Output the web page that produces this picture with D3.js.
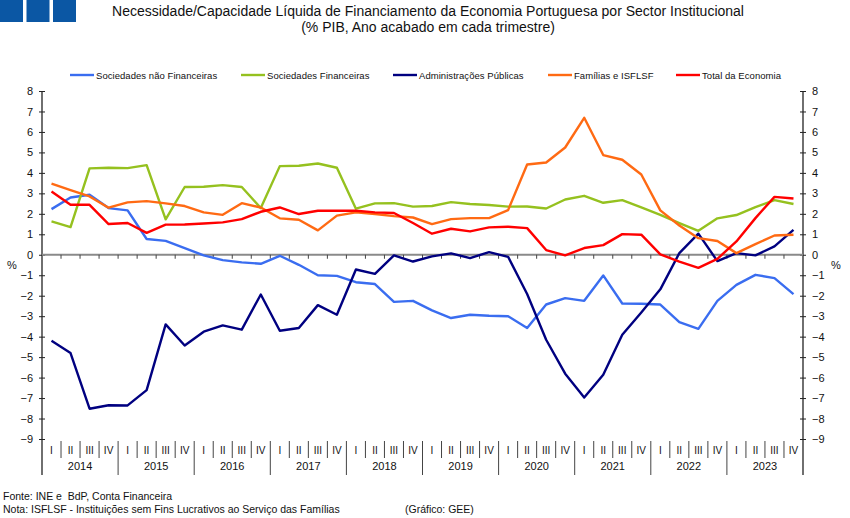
<!DOCTYPE html>
<meta charset="utf-8">
<script src="https://cdn.jsdelivr.net/npm/d3@7"></script>
<style>
  body { margin: 0; background: #fff; }
  svg { display: block; font-family: "Liberation Sans", Arial, sans-serif; }
  .title { font-size: 14px; fill: #111; }
  .legend text { font-size: 9.5px; letter-spacing: 0.05px; fill: #111; }
  .axis text, text.axis { font-size: 11px; fill: #111; }
  .note { font-size: 10.5px; fill: #111; white-space: pre; }
  .serie { fill: none; stroke-width: 2.4px; stroke-linejoin: round; }
</style>
<body>
<div id="viz"></div>
<script>
  // 2014T1 .. 2023T4, % do PIB, ano acabado em cada trimestre
  var years = ["2014", "2015", "2016", "2017", "2018", "2019", "2020", "2021", "2022", "2023"];
  var quarterNames = ["I", "II", "III", "IV"];
  var yTicks = [8, 7, 6, 5, 4, 3, 2, 1, 0, -1, -2, -3, -4, -5, -6, -7, -8, -9];

  var sociedadesNaoFin = [2.23, 2.8, 2.93, 2.28, 2.17, 0.77, 0.68, 0.33, -0.03, -0.26,
    -0.37, -0.44, -0.05, -0.49, -1.0, -1.03, -1.34, -1.43, -2.3, -2.25,
    -2.72, -3.09, -2.93, -2.98, -3.0, -3.58, -2.43, -2.12, -2.25, -1.01,
    -2.38, -2.39, -2.43, -3.29, -3.62, -2.25, -1.47, -0.98, -1.14, -1.92];
  var sociedadesFin = [1.63, 1.35, 4.22, 4.25, 4.23, 4.38, 1.73, 3.31, 3.32, 3.4,
    3.31, 2.28, 4.33, 4.35, 4.46, 4.25, 2.25, 2.51, 2.52, 2.35,
    2.38, 2.57, 2.48, 2.43, 2.35, 2.36, 2.26, 2.7, 2.88, 2.54,
    2.67, 2.31, 1.95, 1.55, 1.17, 1.78, 1.94, 2.33, 2.67, 2.48];
  var adminPublicas = [-4.2, -4.8, -7.52, -7.35, -7.36, -6.61, -3.4, -4.43, -3.76, -3.45,
    -3.66, -1.94, -3.71, -3.58, -2.46, -2.93, -0.72, -0.93, -0.03, -0.33,
    -0.08, 0.07, -0.16, 0.13, -0.1, -1.92, -4.15, -5.81, -6.97, -5.86,
    -3.91, -2.82, -1.69, 0.08, 1.03, -0.31, 0.08, -0.03, 0.41, 1.22];
  var familias = [3.47, 3.16, 2.85, 2.3, 2.56, 2.62, 2.51, 2.38, 2.07, 1.95,
    2.52, 2.31, 1.78, 1.71, 1.19, 1.91, 2.07, 1.99, 1.89, 1.82,
    1.5, 1.74, 1.79, 1.79, 2.18, 4.41, 4.51, 5.24, 6.69, 4.87,
    4.64, 3.92, 2.17, 1.43, 0.81, 0.67, 0.08, 0.52, 0.94, 0.98];
  var totalEconomia = [3.09, 2.44, 2.44, 1.5, 1.55, 1.07, 1.47, 1.48, 1.53, 1.58,
    1.74, 2.1, 2.31, 1.99, 2.15, 2.15, 2.15, 2.07, 2.04, 1.55,
    1.03, 1.27, 1.14, 1.34, 1.37, 1.3, 0.23, -0.03, 0.33, 0.47,
    1.01, 0.98, 0.02, -0.33, -0.64, -0.2, 0.65, 1.79, 2.83, 2.75];

  var series = [
    { name: "Sociedades não Financeiras", values: sociedadesNaoFin, color: "#3a6df0", lx: 70 },
    { name: "Sociedades Financeiras", values: sociedadesFin, color: "#95c11f", lx: 241 },
    { name: "Administrações Públicas", values: adminPublicas, color: "#000080", lx: 393 },
    { name: "Famílias e ISFLSF", values: familias, color: "#ff6a13", lx: 548 },
    { name: "Total da Economia", values: totalEconomia, color: "#ff0000", lx: 676 }
  ];

  var width = 850, height = 518;
  var plotL = 42, plotR = 803, plotT = 91, plotB = 439;

  var svg = d3.select("#viz").append("svg")
    .attr("width", width)
    .attr("height", height);

  // logo squares
  svg.selectAll("rect.logo")
    .data([0, 1, 2])
    .enter().append("rect")
    .attr("x", function(d) { return d * 26.5; })
    .attr("y", 0)
    .attr("width", 23)
    .attr("height", 22)
    .attr("fill", "#0b57a4");

  svg.append("text").attr("class", "title")
    .attr("x", 428).attr("y", 16).attr("text-anchor", "middle")
    .text("Necessidade/Capacidade Líquida de Financiamento da Economia Portuguesa por Sector Institucional");
  svg.append("text").attr("class", "title")
    .attr("x", 428).attr("y", 32).attr("text-anchor", "middle")
    .text("(% PIB, Ano acabado em cada trimestre)");

  var quarters = d3.range(years.length * 4);
  var x = d3.scaleBand().domain(quarters).range([plotL, plotR]);
  var y = d3.scaleLinear().domain([-9, 8]).range([plotB, plotT]);
  var cx = function(i) { return x(i) + x.bandwidth() / 2; };

  // vertical axes
  var axL = svg.append("g").attr("class", "axis")
    .attr("transform", "translate(" + plotL + ",0)")
    .call(d3.axisLeft(y).tickValues(yTicks).tickSize(3).tickPadding(6));
  var axR = svg.append("g").attr("class", "axis")
    .attr("transform", "translate(" + plotR + ",0)")
    .call(d3.axisRight(y).tickValues(yTicks).tickSize(3).tickPadding(6));
  [axL, axR].forEach(function(g) {
    g.attr("font-family", null).attr("font-size", null);
    g.select(".domain").attr("stroke", "#222").attr("stroke-width", 1.3)
      .attr("d", "M0," + plotT + "V" + (plotB + 36));
    g.selectAll(".tick line").attr("x1", -3).attr("x2", 3).attr("stroke", "#222");
  });

  svg.append("text").attr("class", "axis").attr("x", 7).attr("y", 269).text("%");
  svg.append("text").attr("class", "axis").attr("x", 831).attr("y", 269).text("%");

  // zero line with quarter ticks
  svg.append("line")
    .attr("x1", plotL).attr("x2", plotR)
    .attr("y1", y(0)).attr("y2", y(0))
    .attr("stroke", "#8a8a8a").attr("stroke-width", 2);
  svg.selectAll("line.qt")
    .data(quarters.slice(1))
    .enter().append("line")
    .attr("x1", function(i) { return x(i); })
    .attr("x2", function(i) { return x(i); })
    .attr("y1", y(0)).attr("y2", y(0) + 4)
    .attr("stroke", "#444");

  // category axis: quarters and years
  svg.selectAll("line.sep")
    .data(quarters.slice(1))
    .enter().append("line")
    .attr("x1", function(i) { return x(i); })
    .attr("x2", function(i) { return x(i); })
    .attr("y1", plotB + 2)
    .attr("y2", function(i) { return i % 4 === 0 ? plotB + 36 : plotB + 19; })
    .attr("stroke", "#444");
  svg.selectAll("text.q")
    .data(quarters)
    .enter().append("text").attr("class", "axis")
    .attr("x", cx).attr("y", plotB + 15)
    .attr("text-anchor", "middle")
    .style("font-size", "10px")
    .text(function(i) { return quarterNames[i % 4]; });
  svg.selectAll("text.yr")
    .data(years)
    .enter().append("text").attr("class", "axis")
    .attr("x", function(d, k) { return x(k * 4 + 2); })
    .attr("y", plotB + 31)
    .attr("text-anchor", "middle")
    .text(function(d) { return d; });

  // lines
  var line = d3.line()
    .x(function(d, i) { return cx(i); })
    .y(function(d) { return y(d); });
  svg.selectAll("path.serie")
    .data(series)
    .enter().append("path")
    .attr("class", "serie")
    .attr("stroke", function(d) { return d.color; })
    .attr("d", function(d) { return line(d.values); });

  // legend
  var lg = svg.selectAll("g.legend")
    .data(series)
    .enter().append("g").attr("class", "legend")
    .attr("transform", function(d) { return "translate(" + d.lx + ",75)"; });
  lg.append("line").attr("x1", 0).attr("x2", 24)
    .attr("stroke", function(d) { return d.color; }).attr("stroke-width", 2.4);
  lg.append("text").attr("x", 26).attr("y", 3.5)
    .text(function(d) { return d.name; });

  // footer
  svg.append("text").attr("class", "note").attr("x", 3).attr("y", 500)
    .text("Fonte: INE e  BdP, Conta Financeira");
  svg.append("text").attr("class", "note").attr("x", 3).attr("y", 513)
    .text("Nota: ISFLSF - Instituições sem Fins Lucrativos ao Serviço das Famílias");
  svg.append("text").attr("class", "note").attr("x", 405).attr("y", 513)
    .text("(Gráfico: GEE)");
</script>
